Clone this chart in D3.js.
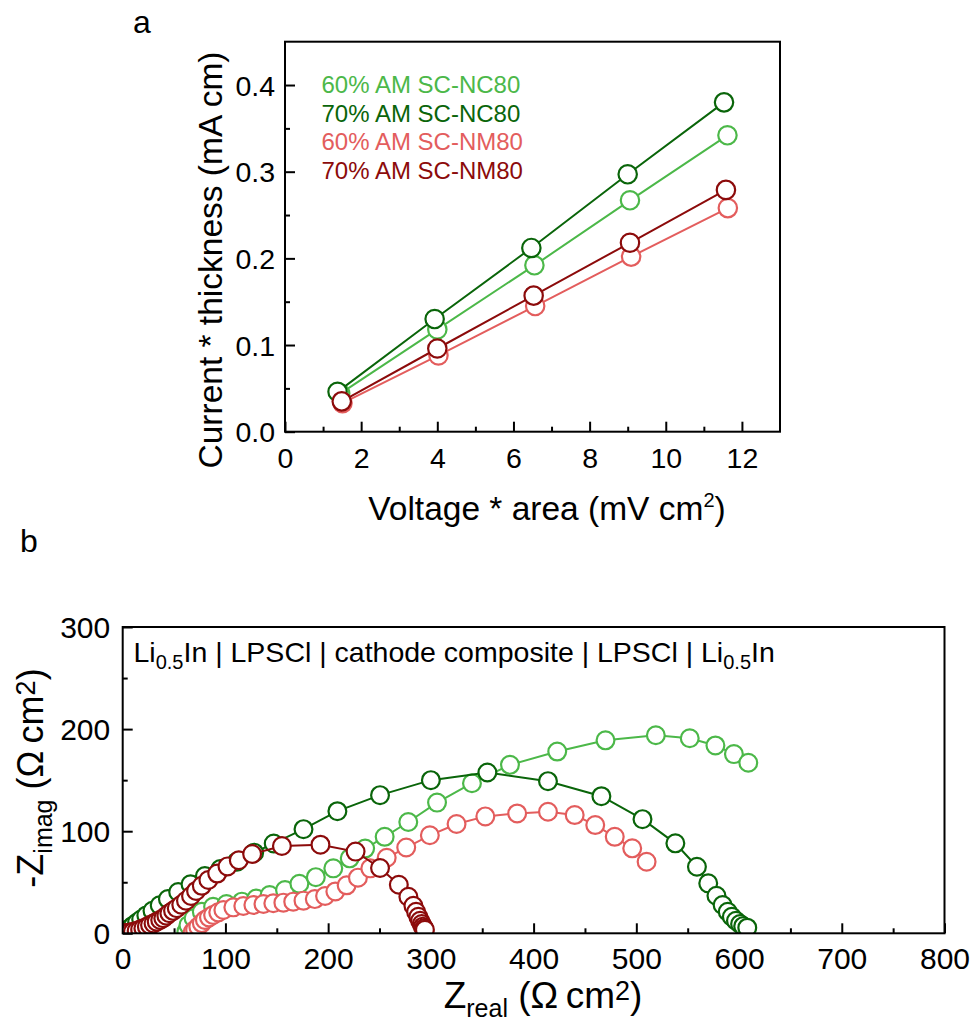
<!DOCTYPE html>
<html>
<head>
<meta charset="utf-8">
<script src="https://cdn.jsdelivr.net/npm/d3@7"></script>
<style>
  html, body { margin: 0; padding: 0; background: #fff; }
  svg { display: block; }
  text { font-family: "Liberation Sans", Arial, Helvetica, sans-serif; fill: #000; }
</style>
</head>
<body>
<svg id="chart" width="974" height="1027"></svg>
<script>
// ---------------- DATA (panel a) ----------------
const topSeriesNames = ["60% AM SC-NC80", "70% AM SC-NC80", "60% AM SC-NM80", "70% AM SC-NM80"];
const topX_60NC = [1.45, 4.00, 6.55, 9.06, 11.62];
const topY_60NC = [0.044, 0.118, 0.192, 0.267, 0.342];
const topX_70NC = [1.38, 3.93, 6.47, 9.00, 11.53];
const topY_70NC = [0.046, 0.130, 0.212, 0.297, 0.380];
const topX_60NM = [1.51, 4.03, 6.57, 9.09, 11.63];
const topY_60NM = [0.033, 0.088, 0.145, 0.202, 0.258];
const topX_70NM = [1.49, 4.00, 6.53, 9.06, 11.58];
const topY_70NM = [0.035, 0.096, 0.157, 0.218, 0.279];
const topXTicks = [0, 2, 4, 6, 8, 10, 12];
const topXMinor = [1, 3, 5, 7, 9, 11];
const topYTicks = [0, 0.1, 0.2, 0.3, 0.4];
const topYMinor = [0.05, 0.15, 0.25, 0.35];

// ---------------- DATA (panel b) ----------------
const eisX_60NC = [62, 64, 69, 77, 88, 101, 116, 130, 143, 158, 172, 188, 205, 221, 236, 255, 278, 306, 340, 377, 423, 470, 519, 552, 577, 595, 609];
const eisY_60NC = [1.6, 8, 14.7, 21, 26, 28.7, 31, 34, 37.5, 42.4, 48.5, 55, 63.6, 73.4, 83, 94.5, 109, 128, 147, 165, 178, 189, 194, 191, 184, 175.5, 167];
const eisX_70NC = [1, 2.5, 4.5, 7, 10, 14, 18, 23, 29, 36, 44, 54, 66, 80, 95, 111, 128, 147, 176, 209, 250.5, 300, 355, 414, 466, 506, 538, 559, 570, 578, 584, 589, 593, 597, 601, 604, 608];
const eisY_70NC = [0.5, 1.5, 3, 5, 7.5, 10.5, 13.5, 17.5, 22, 27.5, 33.5, 40.5, 48, 56, 63, 70, 79, 88, 102, 119.6, 135.3, 150, 157.5, 149, 134.3, 111.8, 88.1, 65.2, 48.9, 36.8, 27.7, 21.1, 16.2, 12.3, 9.1, 7, 5.5];
const eisX_60NM = [68, 70.5, 73.6, 77, 80, 84, 88, 93, 98, 107.7, 117.4, 127.2, 137, 146.6, 156.4, 166, 176, 187, 197, 207, 218, 229, 241, 257, 276, 299, 325, 353, 384, 414, 440, 460, 479, 496, 510];
const eisY_60NM = [1, 3.5, 6.5, 10, 13, 15.5, 18, 20.5, 22.8, 25.4, 26.7, 27.7, 28.7, 29.4, 30, 31, 32, 33.5, 36.5, 41, 47, 54.5, 63.6, 74, 84, 96, 107, 114.5, 117.4, 119, 115.8, 106, 94.5, 83.2, 70.1];
const eisX_70NM = [1, 4, 7, 10, 13.6, 17, 20.1, 23.5, 26.6, 30, 33.1, 36.5, 39.5, 42.5, 45.4, 49, 52.6, 57, 61.6, 66.5, 71.4, 77, 83.4, 92, 102, 113, 126, 155, 192.5, 226.7, 250.5, 268.8, 278.1, 283, 285.6, 287.8, 289.5, 291.1, 292.2, 293.4, 294.2];
const eisY_70NM = [0, 0.3, 0.8, 1.5, 2.5, 3.6, 4.9, 6.4, 8.1, 9.7, 11.4, 13, 14.7, 17.2, 19.6, 22, 24.5, 28, 31.9, 36.5, 41.5, 46.5, 52.2, 58.5, 65.5, 71.5, 77.6, 85.5, 86.8, 80, 64, 47.6, 35.8, 27, 21.1, 16.2, 12.3, 9.1, 6.5, 4.9, 3.5];
const botXTicks = [0, 100, 200, 300, 400, 500, 600, 700, 800];
const botXMinor = [50, 150, 250, 350, 450, 550, 650, 750];
const botYTicks = [0, 100, 200, 300];
const botYMinor = [50, 150, 250];

const colLightGreen = "#4cb849";
const colDarkGreen = "#0a650a";
const colLightRed = "#e35d5d";
const colDarkRed = "#8c0b0b";

// ---------------- DRAW ----------------
const svg = d3.select("#chart");
const font = "'Liberation Sans', Arial, Helvetica, sans-serif";

function zip(xs, ys) { return xs.map((x, i) => ({ x: x, y: ys[i] })); }

function drawPanel(cfg) {
  const g = svg.append("g");
  const x = cfg.x, y = cfg.y;
  const [x0, x1] = x.range(), [y0, y1] = y.range();
  const clipId = cfg.id + "-clip";
  svg.append("defs").append("clipPath").attr("id", clipId)
    .append("rect").attr("x", x0).attr("y", y1).attr("width", x1 - x0).attr("height", y0 - y1);

  const xAxis = g.append("g").attr("transform", `translate(0,${y0})`)
    .call(d3.axisBottom(x).tickValues(cfg.xTicks).tickSize(-10).tickPadding(cfg.xPad).tickFormat(cfg.xFmt));
  const xMinor = g.append("g").attr("transform", `translate(0,${y0})`)
    .call(d3.axisBottom(x).tickValues(cfg.xMinor).tickSize(-5).tickFormat(""));
  const yAxis = g.append("g").attr("transform", `translate(${x0},0)`)
    .call(d3.axisLeft(y).tickValues(cfg.yTicks).tickSize(-10).tickPadding(cfg.yPad).tickFormat(cfg.yFmt));
  const yMinor = g.append("g").attr("transform", `translate(${x0},0)`)
    .call(d3.axisLeft(y).tickValues(cfg.yMinor).tickSize(-5).tickFormat(""));
  [xAxis, xMinor, yAxis, yMinor].forEach(a => {
    a.select(".domain").remove();
    a.selectAll(".tick line").attr("stroke", "#000").attr("stroke-width", 2);
    a.selectAll(".tick text").attr("font-family", font).attr("font-size", cfg.tickFont).attr("fill", "#000");
  });
  xAxis.selectAll(".tick text").attr("dy", "0.71em");
  yAxis.selectAll(".tick text").attr("dy", "0.35em");

  const plot = g.append("g").attr("clip-path", `url(#${clipId})`);
  const line = d3.line().x(d => x(d.x)).y(d => y(d.y));
  cfg.series.forEach(s => {
    const data = zip(s.xs, s.ys);
    const sg = plot.append("g");
    sg.append("path").datum(data).attr("d", line)
      .attr("fill", "none").attr("stroke", s.color).attr("stroke-width", 2);
    sg.selectAll("circle").data(data).join("circle")
      .attr("cx", d => x(d.x)).attr("cy", d => y(d.y)).attr("r", cfg.r)
      .attr("fill", "#fff").attr("stroke", s.color).attr("stroke-width", 2.2);
  });

  g.append("rect").attr("x", x0).attr("y", y1).attr("width", x1 - x0).attr("height", y0 - y1)
    .attr("fill", "none").attr("stroke", "#000").attr("stroke-width", 2);
  return g;
}

// Panel a
const xa = d3.scaleLinear().domain([0, 13]).range([285, 780]);
const ya = d3.scaleLinear().domain([0, 0.45]).range([431.7, 41.7]);
const topSeries = [
  { xs: topX_60NC, ys: topY_60NC, color: colLightGreen },
  { xs: topX_70NC, ys: topY_70NC, color: colDarkGreen },
  { xs: topX_60NM, ys: topY_60NM, color: colLightRed },
  { xs: topX_70NM, ys: topY_70NM, color: colDarkRed }
];
drawPanel({ id: "pa", x: xa, y: ya, xTicks: topXTicks, xMinor: topXMinor, yTicks: topYTicks, yMinor: topYMinor,
  xFmt: d3.format("d"), yFmt: d3.format(".1f"), xPad: 16, yPad: 10, tickFont: 28.5, r: 9.2, series: topSeries });

const legendColors = [colLightGreen, colDarkGreen, colLightRed, colDarkRed];
svg.append("g").selectAll("text").data(topSeriesNames).join("text")
  .attr("x", 321.5).attr("y", (d, i) => 92.7 + i * 28.8)
  .attr("font-size", 24).attr("fill", (d, i) => legendColors[i]).style("fill", (d, i) => legendColors[i])
  .text(d => d);

svg.append("text").attr("x", 133).attr("y", 33).attr("font-size", 32).text("a");
svg.append("text").attr("transform", "translate(222,260) rotate(-90)")
  .attr("text-anchor", "middle").attr("font-size", 33.5).text("Current * thickness (mA cm)");
const xta = svg.append("text").attr("x", 547).attr("y", 520).attr("text-anchor", "middle").attr("font-size", 33.5);
xta.append("tspan").text("Voltage * area (mV cm");
xta.append("tspan").attr("font-size", 20).attr("dy", -13).text("2");
xta.append("tspan").attr("dy", 13).text(")");

// Panel b
const xb = d3.scaleLinear().domain([0, 800]).range([122.7, 944.5]);
const yb = d3.scaleLinear().domain([0, 300]).range([933.3, 627]);
const botSeries = [
  { xs: eisX_60NC, ys: eisY_60NC, color: colLightGreen },
  { xs: eisX_70NC, ys: eisY_70NC, color: colDarkGreen },
  { xs: eisX_60NM, ys: eisY_60NM, color: colLightRed },
  { xs: eisX_70NM, ys: eisY_70NM, color: colDarkRed }
];
drawPanel({ id: "pb", x: xb, y: yb, xTicks: botXTicks, xMinor: botXMinor, yTicks: botYTicks, yMinor: botYMinor,
  xFmt: d3.format("d"), yFmt: d3.format("d"), xPad: 14, yPad: 12.5, tickFont: 30, r: 8.9, series: botSeries });

svg.append("text").attr("x", 20).attr("y", 552).attr("font-size", 32).text("b");

const ann = svg.append("text").attr("x", 133.5).attr("y", 661.7).attr("font-size", 28.5);
ann.append("tspan").text("Li");
ann.append("tspan").attr("font-size", 20).attr("dy", 7).text("0.5");
ann.append("tspan").attr("dy", -7).text("In | LPSCl | cathode composite | LPSCl | Li");
ann.append("tspan").attr("font-size", 20).attr("dy", 7).text("0.5");
ann.append("tspan").attr("dy", -7).text("In");

const xtb = svg.append("text").attr("x", 543).attr("y", 1008).attr("text-anchor", "middle").attr("font-size", 37);
xtb.append("tspan").text("Z");
xtb.append("tspan").attr("font-size", 25).attr("dy", 9).text("real");
xtb.append("tspan").attr("dy", -9).text(" (\u03A9\u2009cm");
xtb.append("tspan").attr("font-size", 27).attr("dy", -8).text("2");
xtb.append("tspan").attr("dy", 8).text(")");

const ytb = svg.append("text").attr("transform", "translate(43,778) rotate(-90)")
  .attr("text-anchor", "middle").attr("font-size", 36);
ytb.append("tspan").text("-Z");
ytb.append("tspan").attr("font-size", 25).attr("dy", 9).text("imag");
ytb.append("tspan").attr("dy", -9).text(" (\u03A9\u2009cm");
ytb.append("tspan").attr("font-size", 27).attr("dy", -8).text("2");
ytb.append("tspan").attr("dy", 8).text(")");
</script>
</body>
</html>
